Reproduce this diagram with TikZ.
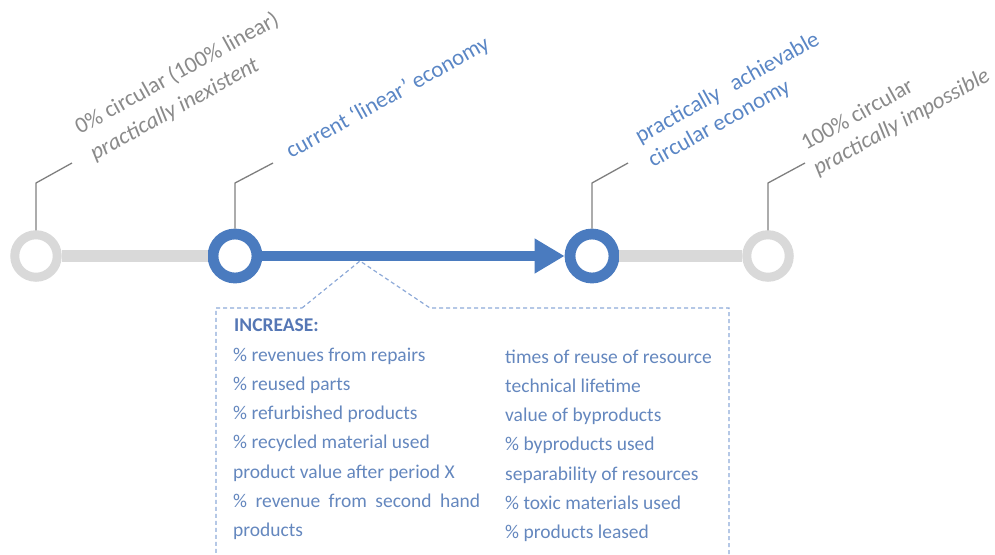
\documentclass[tikz,border=0pt]{standalone}
\usepackage{fontspec}
\setmainfont{Carlito}
\usetikzlibrary{arrows.meta}
\definecolor{ringgray}{HTML}{D9D9D9}
\definecolor{mainblue}{HTML}{4A7BBF}
\definecolor{labgray}{HTML}{8A8A8A}
\definecolor{labblue}{HTML}{5A86C5}
\definecolor{boxblue}{HTML}{6487BE}
\definecolor{headblue}{HTML}{5577B5}
\definecolor{leadgray}{HTML}{7F7F7F}
\definecolor{dashblue}{HTML}{8EAAD8}
\begin{document}
\begin{tikzpicture}[x=1pt,y=-1pt,
  ringg/.style={circle,draw=ringgray,fill=white,line width=9pt,minimum size=42.5pt,inner sep=0pt},
  ringb/.style={circle,draw=mainblue,fill=white,line width=10.8pt,minimum size=44pt,inner sep=0pt},
  graybar/.style={draw=ringgray,line width=12pt},
  leader/.style={draw=leadgray,line width=1.3pt},
  labg/.style={text=labgray,rotate=29,anchor=base west,inner sep=0pt,font=\fontsize{22.8}{27}\selectfont},
  labb/.style={text=labblue,rotate=29,anchor=base west,inner sep=0pt,font=\fontsize{22.8}{27}\selectfont},
  itm/.style={text=boxblue,anchor=base west,inner sep=0pt,font=\fontsize{19.5}{23}\selectfont},
  callout/.style={draw=dashblue,line width=1.2pt,dash pattern=on 4pt off 3pt}
]
\useasboundingbox (0,0) rectangle (995,554);

% callout box (drawn first, behind)
\coordinate (apex) at (360,261);
\coordinate (pl) at (302,308);
\coordinate (pr) at (430,308);
\coordinate (tr) at (729,308);
\coordinate (br) at (729,575);
\coordinate (bl) at (216,575);
\coordinate (tl) at (216,308);
\draw[callout] (pl) -- (apex) -- (pr) -- (tr) -- (br) -- (bl) -- (tl) -- cycle;

% timeline circles
\node[ringg] (c1) at (36,256) {};
\node[ringb] (c2) at (235,256) {};
\node[ringb] (c3) at (592,256) {};
\node[ringg] (c4) at (768,256) {};

\draw[graybar] (c1) -- (c2);
\draw[graybar] (c3) -- (c4);
\draw[draw=mainblue,line width=10.5pt,-{Triangle[length=30pt,width=33pt]}] (c2) -- (c3);

% leaders
\coordinate (k1) at (36,183);  \coordinate (e1) at (72,163);
\coordinate (k2) at (235,183); \coordinate (e2) at (273,163);
\coordinate (k3) at (592,183); \coordinate (e3) at (628,163);
\coordinate (k4) at (768,183); \coordinate (e4) at (805,163);
\draw[leader] (c1.north) -- (k1) -- (e1);
\draw[leader] (c2.north) -- (k2) -- (e2);
\draw[leader] (c3.north) -- (k3) -- (e3);
\draw[leader] (c4.north) -- (k4) -- (e4);

% labels
\node[labg] (l1a) at (80,135) {0\% circular (100\% linear)};
\node[labg] (l1b) at (95,161) {\itshape practically inexistent};
\node[labb] (l2) at (291,159) {current ‘linear’ economy};
\node[labb] (l3a) at (640,144) {practically\hspace{9pt} achievable};
\node[labb] (l3b) at (653,168) {circular economy};
\node[labg] (l4a) at (806,151) {100\% circular};
\node[labg] (l4b) at (818,176) {\itshape practically impossible};

% box contents
\node[itm,text=headblue,font=\fontsize{19.5}{23}\selectfont\bfseries] (inc) at (234,331) {INCREASE:};
\node[itm] (a1) at (233,361) {\% revenues from repairs};
\node[itm] (a2) at (233,390.3) {\% reused parts};
\node[itm] (a3) at (233,419.6) {\% refurbished products};
\node[itm] (a4) at (233,448.9) {\% recycled material used};
\node[itm] (a5) at (233,478.2) {product value after period X};
\node[itm] (a6) at (233,507.5) {\makebox[247pt][s]{\% revenue from second hand}};
\node[itm] (a7) at (233,536.8) {products};
\node[itm] (b1) at (505,363) {times of reuse of resource};
\node[itm] (b2) at (505,392.3) {technical lifetime};
\node[itm] (b3) at (505,421.6) {value of byproducts};
\node[itm] (b4) at (505,450.9) {\% byproducts used};
\node[itm] (b5) at (505,480.2) {separability of resources};
\node[itm] (b6) at (505,509.5) {\% toxic materials used};
\node[itm] (b7) at (505,538.8) {\% products leased};
\end{tikzpicture}
\end{document}
